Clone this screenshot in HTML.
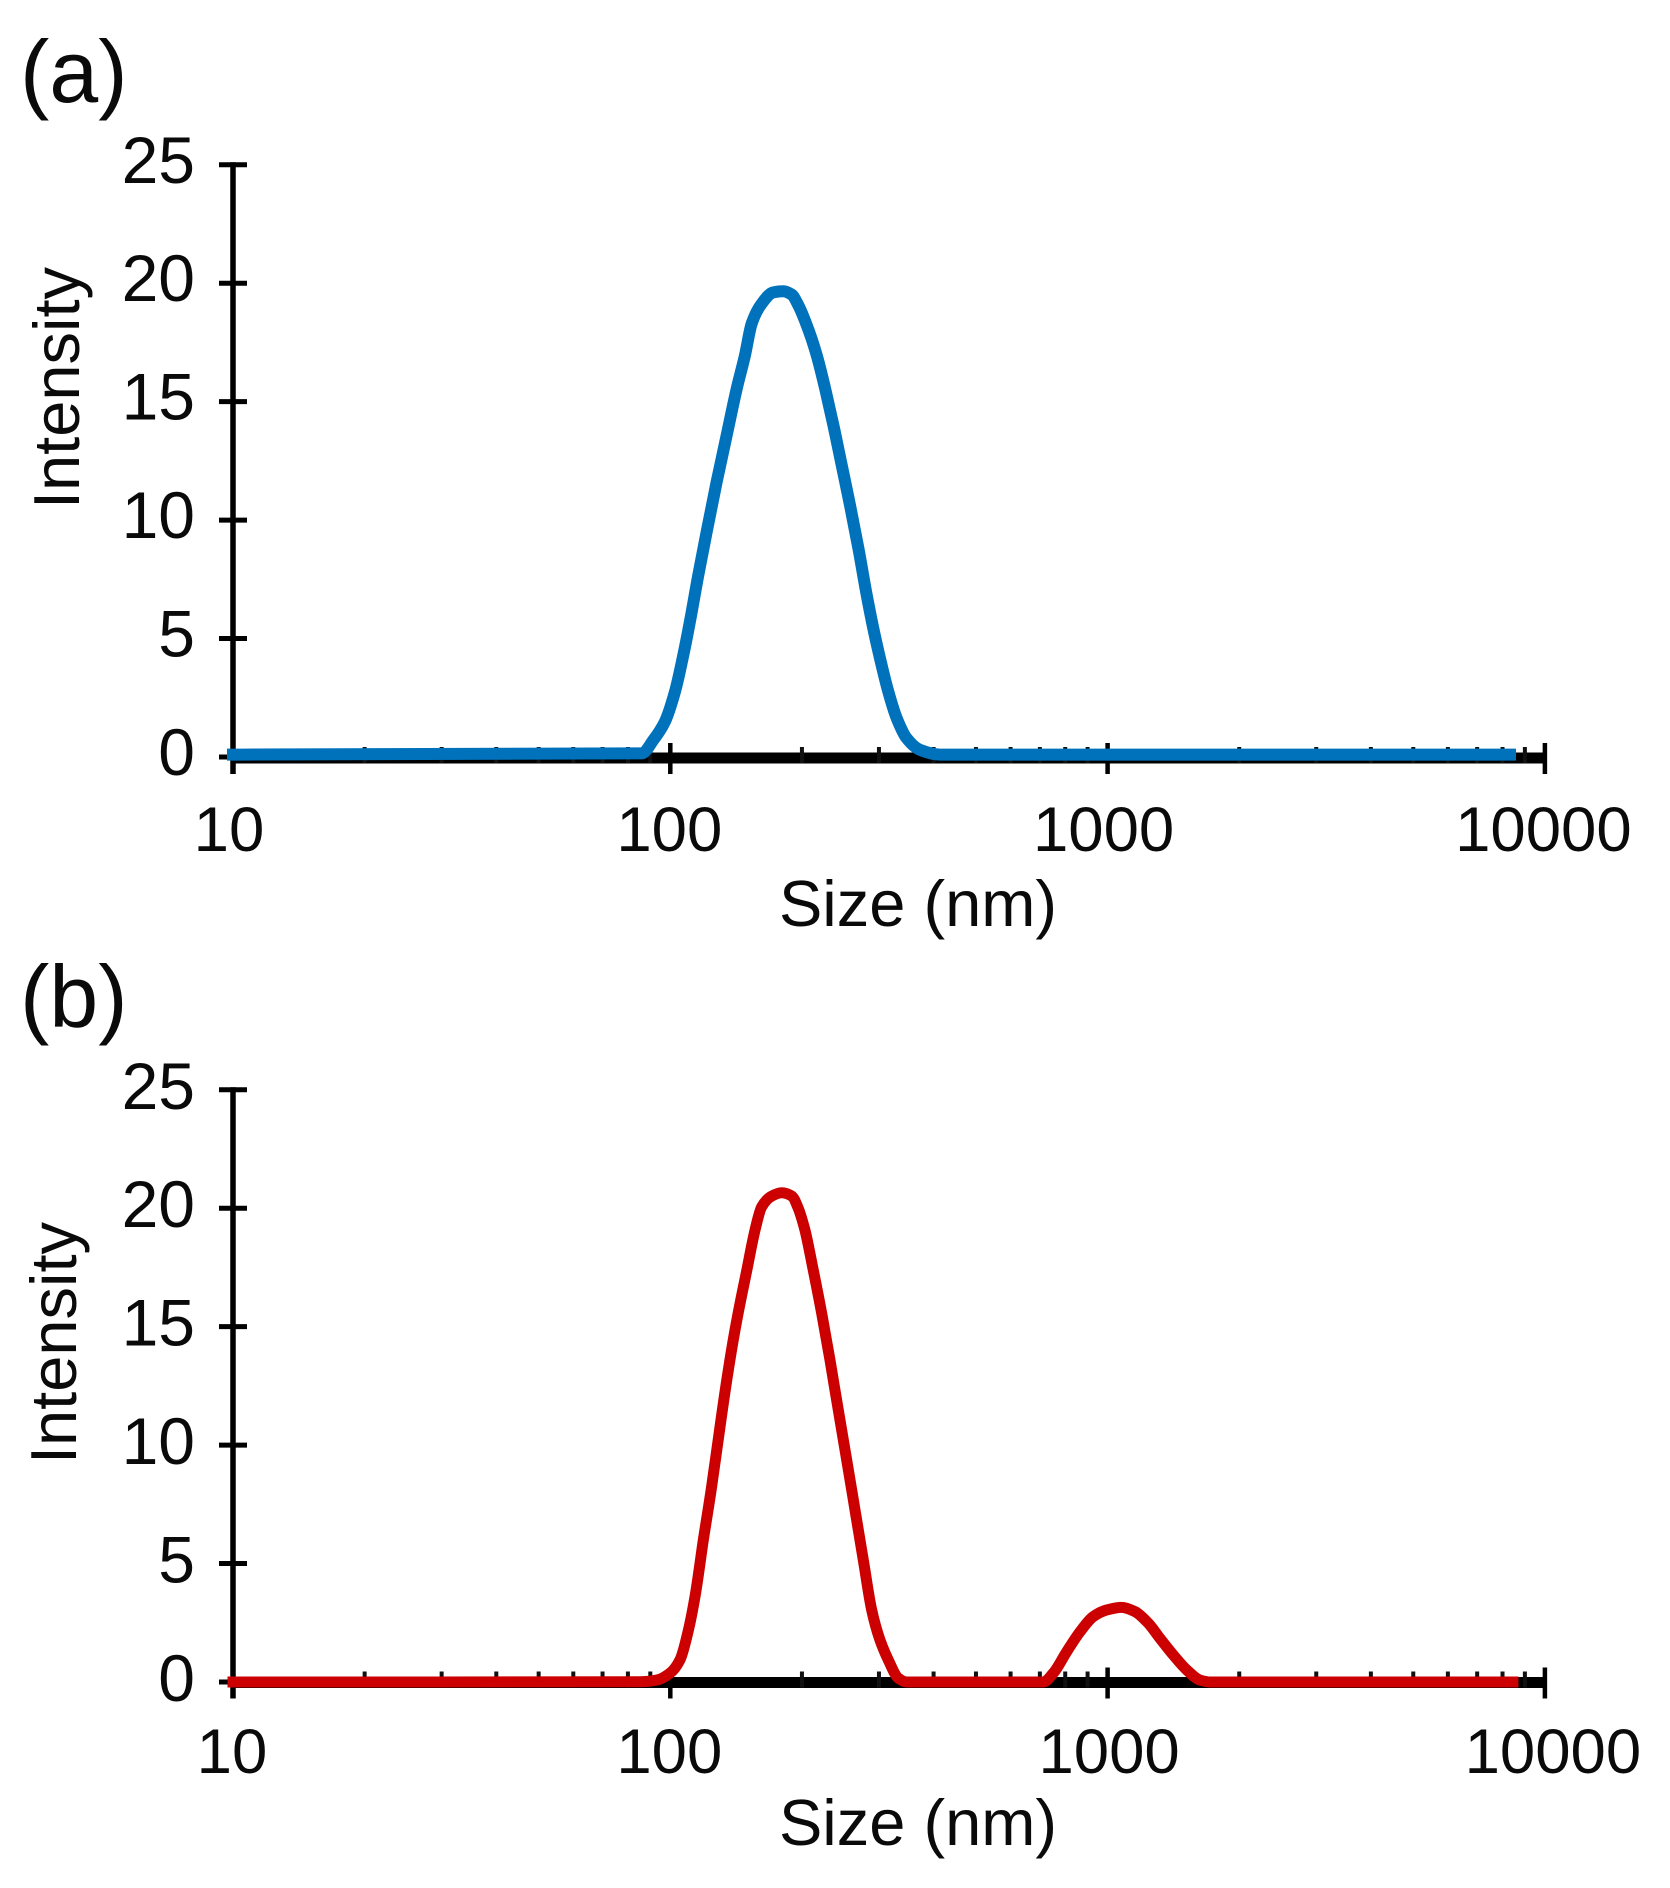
<!DOCTYPE html>
<html lang="en">
<head>
<meta charset="utf-8">
<title>Size distribution by intensity</title>
<style>
  html, body { margin: 0; padding: 0; background: #fff; }
  svg { display: block; font-family: "Liberation Sans", Arial, sans-serif; fill: #0a0a0a; }
</style>
</head>
<body>
<svg id="figure" xmlns="http://www.w3.org/2000/svg" width="1670" height="1888" viewBox="0 0 1670 1888">
  <rect x="0" y="0" width="1670" height="1888" fill="#ffffff"/>
  <g id="panel-a">
    <text x="20" y="102" font-size="88">(a)</text>
    <text transform="translate(79 388) rotate(-90)" text-anchor="middle" font-size="65">Intensity</text>
    <text x="918" y="926" text-anchor="middle" font-size="65">Size (nm)</text>
  </g>
  <g id="panel-b">
    <text x="20" y="1027" font-size="88">(b)</text>
    <text transform="translate(76 1343) rotate(-90)" text-anchor="middle" font-size="65">Intensity</text>
    <text x="918" y="1845" text-anchor="middle" font-size="65">Size (nm)</text>
  </g>
</svg>
<script>
// Chart data
const xTickValues = [10, 100, 1000, 10000];
const xTickLabels = ["10", "100", "1000", "10000"];
const yTickValues = [0, 5, 10, 15, 20, 25];
const yTickLabels = ["0", "5", "10", "15", "20", "25"];
const minorMultipliers = [2, 3, 4, 5, 6, 7, 8, 9];

const sizesA = [10, 86, 91.5, 97.2, 102.5, 107.1, 110.9, 115.9, 121.1, 127.7, 134.6, 141.9, 148.2, 153.5, 161.8, 172, 181.3, 189.5, 196.2, 205.1, 216.2, 225.9, 236, 246.6, 257.6, 269.2, 281.3, 291.2, 301.7, 315.1, 329.5, 347.2, 372.4, 413.6, 8320];
const intensityA = [0.1, 0.15, 0.72, 1.49, 2.76, 4.3, 5.71, 7.68, 9.51, 11.62, 13.59, 15.56, 16.96, 18.3, 19.14, 19.61, 19.66, 19.52, 19.07, 18.23, 16.96, 15.56, 14, 12.32, 10.63, 8.81, 6.84, 5.43, 4.16, 2.76, 1.63, 0.79, 0.3, 0.1, 0.1];

const sizesB = [10, 85.2, 93.1, 99.8, 105.2, 110, 113.9, 119, 124.3, 129.9, 135.7, 141.9, 149.6, 156.2, 161.8, 170.6, 179.8, 189.6, 196.2, 203.2, 212.3, 221.9, 231.8, 242.2, 253.2, 264.5, 276.3, 288.7, 301.7, 315.1, 332.2, 347.2, 712.8, 751, 806.3, 864.8, 927.2, 995, 1077, 1155, 1239, 1318, 1413, 1517, 1627, 1720, 8450];
const intensityB = [0, 0.01, 0.08, 0.37, 0.93, 2.19, 3.6, 5.99, 8.24, 10.77, 13.16, 15.27, 17.38, 19.07, 20.06, 20.51, 20.65, 20.51, 19.99, 19.07, 17.38, 15.56, 13.59, 11.48, 9.37, 7.26, 5.15, 3.04, 1.77, 0.93, 0.16, 0, 0, 0.37, 1.28, 2.12, 2.76, 3.04, 3.15, 2.97, 2.48, 1.84, 1.14, 0.51, 0.08, 0, 0];

// Axis functions
const NS = "http://www.w3.org/2000/svg";
const X_LEFT = 233;
const X_DECADE = 437.3;
const Y_UNIT = 23.69;
function xScale(size) { return X_LEFT + (Math.log10(size) - 1) * X_DECADE; }
function make(tag, attrs, parent) {
  const el = document.createElementNS(NS, tag);
  Object.keys(attrs).forEach(function (k) { el.setAttribute(k, attrs[k]); });
  parent.appendChild(el);
  return el;
}

// Smooth path through the data points (monotone cubic, so no overshoot)
function smoothPath(xs, ys) {
  const n = xs.length;
  const h = [];
  const d = [];
  for (let i = 0; i < n - 1; i++) {
    h.push(xs[i + 1] - xs[i]);
    d.push((ys[i + 1] - ys[i]) / h[i]);
  }
  const m = [d[0]];
  for (let i = 1; i < n - 1; i++) {
    if (d[i - 1] * d[i] <= 0) {
      m.push(0);
    } else {
      const w1 = 2 * h[i] + h[i - 1];
      const w2 = h[i] + 2 * h[i - 1];
      m.push((w1 + w2) / (w1 / d[i - 1] + w2 / d[i]));
    }
  }
  m.push(d[n - 2]);
  let path = "M" + xs[0].toFixed(1) + " " + ys[0].toFixed(1);
  for (let i = 0; i < n - 1; i++) {
    path += " C" + (xs[i] + h[i] / 3).toFixed(1) + " " + (ys[i] + m[i] * h[i] / 3).toFixed(1) +
      " " + (xs[i + 1] - h[i] / 3).toFixed(1) + " " + (ys[i + 1] - m[i + 1] * h[i] / 3).toFixed(1) +
      " " + xs[i + 1].toFixed(1) + " " + ys[i + 1].toFixed(1);
  }
  return path;
}

function drawPanel(cfg) {
  const g = document.getElementById(cfg.id);
  const yScale = function (v) { return cfg.y0 - v * Y_UNIT; };
  const axisY = cfg.axisY;

  // x-axis bar
  const xAxis = make("line", { x1: X_LEFT, x2: xScale(10000), y1: axisY, y2: axisY, stroke: "#000", "stroke-width": 11 }, g);
  
  

  // y-axis line
  const yAxis = make("line", { x1: X_LEFT, x2: X_LEFT, y1: yScale(25) - 2.5, y2: axisY + 16, stroke: "#000", "stroke-width": 5.5 }, g);
  
  

  // minor x ticks
  xTickValues.slice(0, 3).forEach(function (decade) {
    minorMultipliers.forEach(function (m) {
      const x = xScale(decade * m);
      const minor = make("line", { x1: x, x2: x, y1: axisY - 11, y2: axisY + 5, stroke: "#111", "stroke-width": 4 }, g);
      
      
    });
  });

  // major x ticks and labels
  xTickValues.forEach(function (v, i) {
    const x = xScale(v);
    const tick = make("line", { x1: x, x2: x, y1: axisY - 15, y2: axisY + 16, stroke: "#000", "stroke-width": 4.5 }, g);
    
    
    const label = make("text", { x: x + cfg.xLabelNudge[i], y: cfg.xLabelBaseline, "text-anchor": "middle", "font-size": 63.5 }, g);
    label.textContent = xTickLabels[i];
    
    
  });

  // y ticks and labels
  yTickValues.forEach(function (v, i) {
    const y = yScale(v);
    const tick = make("line", { x1: 219, x2: 247, y1: y, y2: y, stroke: "#000", "stroke-width": 5 }, g);
    
    
    const label = make("text", { x: 195, y: y + cfg.yLabelDrop, "text-anchor": "end", "font-size": 66 }, g);
    label.textContent = yTickLabels[i];
    
    
  });

  // series line
  const xs = cfg.sizes.map(xScale);
  const ys = cfg.values.map(yScale);
  const line = make("path", { d: smoothPath(xs, ys), fill: "none", stroke: cfg.color, "stroke-width": cfg.width, "stroke-linejoin": "round", "stroke-linecap": "square" }, g);
  
  
}

drawPanel({
  id: "panel-a", y0: 757, axisY: 758, sizes: sizesA, values: intensityA,
  color: "#0072bc", width: 12, lineName: "intensity-line-blue",
  xLabelBaseline: 851, yLabelDrop: 18, xLabelNudge: [-4, -1, -4, -1.5]
});
drawPanel({
  id: "panel-b", y0: 1682, axisY: 1682.5, sizes: sizesB, values: intensityB,
  color: "#cc0000", width: 11, lineName: "intensity-line-red",
  xLabelBaseline: 1773, yLabelDrop: 19, xLabelNudge: [-1, -1, 1.5, 8]
});
</script>
</body>
</html>
